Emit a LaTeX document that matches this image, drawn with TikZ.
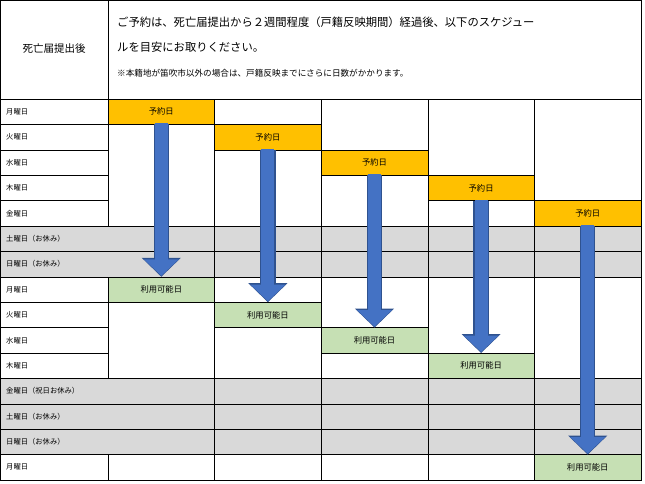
\documentclass[tikz,border=0pt]{standalone}
\usepackage{fontspec}
\setmainfont{Noto Sans CJK JP}
\usetikzlibrary{arrows.meta}
\definecolor{reserve}{HTML}{FFC000}
\definecolor{usable}{HTML}{C6E0B4}
\definecolor{holiday}{HTML}{D9D9D9}
\definecolor{arrowblue}{HTML}{4472C4}
\definecolor{arrowedge}{HTML}{2F528F}
\begin{document}
\begin{tikzpicture}[x=1pt,y=-1pt,
        grid/.style={draw=black,line width=0.6pt},
        day/.style={font=\fontsize{7.3}{8}\selectfont,anchor=west,inner sep=0pt},
        cell/.style={font=\fontsize{8.3}{9}\selectfont,inner sep=0pt},
        shaftout/.style={line width=15.5pt,draw=arrowedge,-{Triangle[width=38pt,length=19pt]}},
        shaft/.style={line width=13pt,draw=arrowblue,shorten >=1pt,-{Triangle[width=34pt,length=16.5pt]}}]
    \useasboundingbox (0,0) rectangle (645,483);
    % header
    \draw[grid] (0,0) rectangle (641,99);
    \draw[grid] (108,0) -- (108,480);
    \node[font=\fontsize{10.5}{11}\selectfont] (after) at (54,49) {死亡届提出後};
    \node[anchor=west,font=\fontsize{11.3}{12}\selectfont,inner sep=0pt] (note1) at (117,22)
        {ご予約は、死亡届提出から２週間程度（戸籍反映期間）経過後、以下のスケジュー};
    \node[anchor=west,font=\fontsize{11.3}{12}\selectfont,inner sep=0pt] (note2) at (117,47)
        {ルを目安にお取りください。};
    \node[anchor=west,font=\fontsize{8.6}{9}\selectfont,inner sep=0pt] (note3) at (117,73)
        {※本籍地が笛吹市以外の場合は、戸籍反映までにさらに日数がかかります。};
    % gray rows
    \foreach \r in {5,6,11,12,13}
        \fill[holiday] (0,99+25.4*\r) rectangle (641,99+25.4*\r+25.4);
    % day labels
    \foreach \r/\t in {0/月曜日,1/火曜日,2/水曜日,3/木曜日,4/金曜日,5/土曜日（お休み）,
            6/日曜日（お休み）,7/月曜日,8/火曜日,9/水曜日,10/木曜日,11/金曜日（祝日お休み）,
            12/土曜日（お休み）,13/日曜日（お休み）,14/月曜日}{
        \node[day] (d\r) at (6,99+25.4*\r+12.7) {\t};
        \draw[grid] (0,99+25.4*\r) -- (108,99+25.4*\r);
    }
    \foreach \r in {5,6,7,11,12,13,14}
        \draw[grid] (0,99+25.4*\r) -- (641,99+25.4*\r);
    \draw[grid] (0,0) -- (0,480) -- (641,480) -- (641,0);
    % columns: reserve row / usable row
    \foreach \c/\g in {1/7,2/8,3/9,4/10,5/14}{
        \pgfmathsetmacro\xl{108+106.6*(\c-1)}
        \pgfmathsetmacro\yr{99+25.4*(\c-1)}
        \pgfmathsetmacro\yg{99+25.4*\g}
        \draw[grid] (\xl+106.6,99) -- (\xl+106.6,480);
        \filldraw[fill=reserve,grid] (\xl,\yr) rectangle (\xl+106.6,\yr+25.4);
        \node[cell] (res\c) at (\xl+53.3,\yr+12.7) {予約日};
        \filldraw[fill=usable,grid] (\xl,\yg) rectangle (\xl+106.6,\yg+25.4);
        \node[cell] (use\c) at (\xl+53.3,\yg+12.7) {利用可能日};
        \coordinate (top\c) at (\xl+53.3,\yr+25.4);
        \coordinate (tip\c) at (\xl+53.3,\yg);
    }
    % arrows
    \foreach \c in {1,...,5}{
        \draw[shaftout] (top\c) -- (tip\c);
        \draw[shaft] ([yshift=1pt]top\c) -- (tip\c);
    }
\end{tikzpicture}
\end{document}
